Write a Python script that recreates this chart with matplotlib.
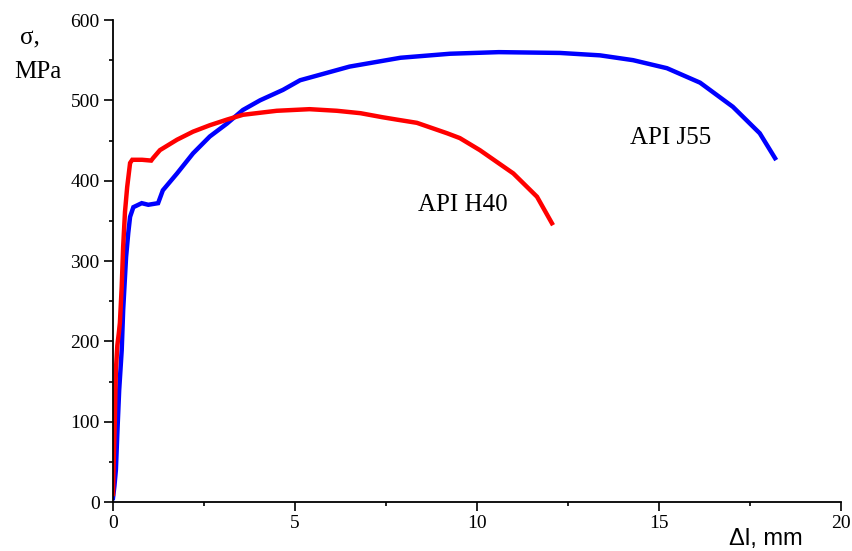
import numpy as np
import matplotlib.pyplot as plt
from matplotlib.ticker import MultipleLocator

plt.rcParams['font.family'] = ['Liberation Serif', 'DejaVu Serif']

# API H40 (red)
h40_dl = [0, 0.02, 0.05, 0.08, 0.12, 0.16, 0.19, 0.24, 0.28, 0.33, 0.39, 0.47, 0.53,
          0.8, 1.05, 1.1, 1.29, 1.76, 2.2, 2.66, 3.13, 3.57, 4.5, 5.4, 6.15, 6.8,
          7.4, 7.8, 8.35, 9.18, 9.53, 10.08, 11.0, 11.65, 12.06]
h40_sig = [10, 50, 100, 164, 195, 210, 223, 268, 318, 361, 392, 422, 426,
           426, 425, 428, 438, 451, 461, 469, 476, 482, 487, 489, 487, 484,
           479, 476, 472, 459, 453, 438, 409, 380, 347]

# API J55 (blue)
j55_dl = [0, 0.04, 0.08, 0.12, 0.17, 0.24, 0.28, 0.36, 0.42, 0.47, 0.56, 0.79, 0.97,
          1.24, 1.37, 1.76, 2.2, 2.66, 3.13, 3.57, 4.04, 4.67, 5.14, 6.5, 7.9,
          9.26, 10.6, 12.28, 13.38, 14.29, 15.22, 16.13, 17.03, 17.77, 18.19]
j55_sig = [5, 20, 40, 86, 139, 189, 239, 305, 335, 355, 367, 372, 370,
           372, 388, 409, 434, 455, 471, 488, 500, 513, 525, 542, 553,
           558, 560, 559, 556, 550, 540, 522, 492, 459, 428]

fig = plt.figure(figsize=(8.52, 5.51), dpi=100)
ax = fig.add_axes([0.1326, 0.0889, 0.8544, 0.8748])

ax.plot(j55_dl, j55_sig, color='#0000ff', lw=3.2, solid_joinstyle='miter')
ax.plot(h40_dl, h40_sig, color='#ff0000', lw=3.2, solid_joinstyle='miter')

ax.text(15.33, 453, 'API J55', fontsize=18, ha='center', va='center')
ax.text(9.62, 370, 'API H40', fontsize=18, ha='center', va='center')

ax.set_xlim(0, 20)
ax.set_ylim(0, 600)
ax.xaxis.set_major_locator(MultipleLocator(5))
ax.xaxis.set_minor_locator(MultipleLocator(2.5))
ax.yaxis.set_major_locator(MultipleLocator(100))
ax.yaxis.set_minor_locator(MultipleLocator(50))
ax.spines['top'].set_visible(False)
ax.spines['right'].set_visible(False)
for s in ['left', 'bottom']:
    ax.spines[s].set_linewidth(1.3)
ax.tick_params(which='major', direction='out', length=6.5, width=1.2, labelsize=14, pad=3)
ax.tick_params(which='minor', direction='out', length=3, width=1.2)

fig.text(20 / 852, 1 - 38 / 551, 'σ,', fontsize=18, ha='left', va='center')
fig.text(14 / 852, 1 - 72 / 551, 'MPa', fontsize=18, ha='left', va='center')
fig.text(803 / 852, 1 - 545 / 551, 'Δl, mm', fontsize=17, ha='right', va='baseline',
         family=['Liberation Sans', 'DejaVu Sans'])

fig.savefig('out.png', dpi=100)
